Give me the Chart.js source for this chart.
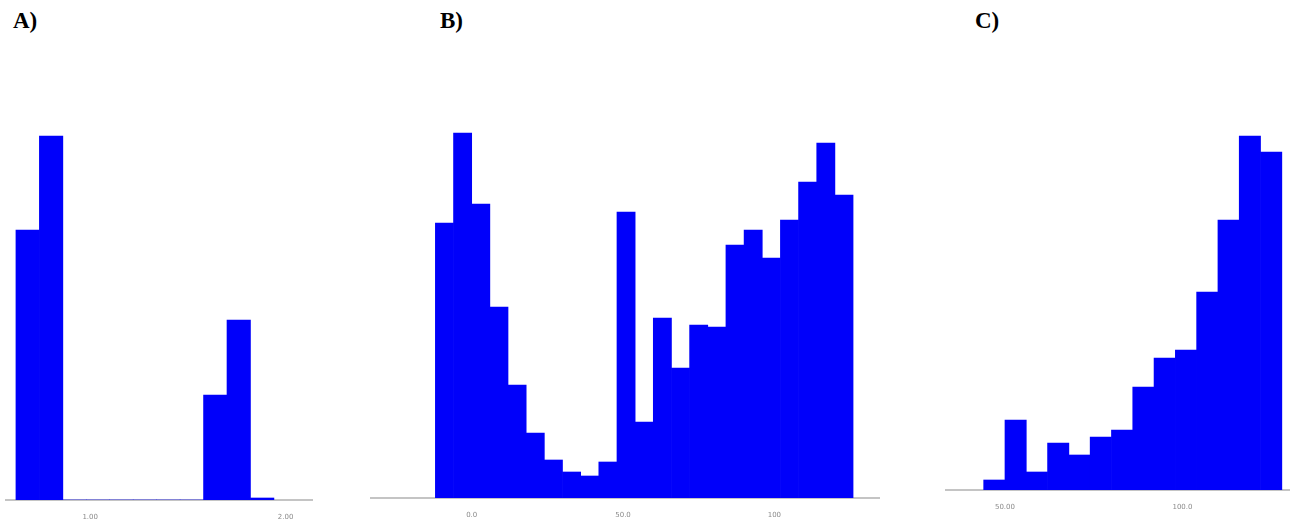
<!DOCTYPE html>
<html>
<head>
<meta charset="utf-8">
<script src="https://cdn.jsdelivr.net/npm/chart.js@4.4.1/dist/chart.umd.min.js"></script>
<style>
  body { margin: 0; background: #fff; width: 1291px; height: 529px; position: relative; overflow: hidden; }
  .title { position: absolute; top: 8px; font-family: 'Liberation Serif', 'Times New Roman', serif; font-weight: bold; font-size: 23px; color: #000; }
  .panel { position: absolute; }
</style>
</head>
<body>
<div class="title" style="left:13px">A)</div>
<div class="title" style="left:440px">B)</div>
<div class="title" style="left:975px">C)</div>

<div class="panel" style="left:5px; top:100px;"><canvas id="histA" width="308" height="430"></canvas></div>
<div class="panel" style="left:370px; top:98px;"><canvas id="histB" width="510" height="430"></canvas></div>
<div class="panel" style="left:945px; top:90px;"><canvas id="histC" width="345" height="430"></canvas></div>

<script>
// Panel A - bin centres and counts
const binsA = [0.68, 0.80, 0.92, 1.04, 1.16, 1.28, 1.40, 1.52, 1.64, 1.76, 1.88];
const countsA = [270, 364, 0, 0, 0, 0, 0, 0, 105, 180, 2];
const ticksA = [1, 2];
const tickLabelsA = ['1.00', '2.00'];

// Panel B
const binsB = [-9, -3, 3, 9, 15, 21, 27, 33, 39, 45, 51, 57, 63, 69, 75, 81, 87, 93, 99, 105, 111, 117, 123];
const countsB = [275, 365, 294, 191, 113, 65, 38, 26, 22, 36, 286, 76, 180, 130, 173, 171, 253, 268, 240, 278, 316, 355, 303];
const ticksB = [0, 50, 100];
const tickLabelsB = ['0.0', '50.0', '100'];

// Panel C
const binsC = [47, 53, 59, 65, 71, 77, 83, 89, 95, 101, 107, 113, 119, 125];
const countsC = [10, 70, 18, 47, 35, 53, 60, 103, 132, 140, 198, 270, 354, 338];
const ticksC = [50, 100];
const tickLabelsC = ['50.00', '100.0'];

function makeHist(id, bins, counts, ticks, tickLabels, xMin, xMax) {
    const ctx = document.getElementById(id).getContext('2d');
    return new Chart(ctx, {
        type: 'bar',
        data: {
            datasets: [{
                data: bins.map((x, i) => ({ x: x, y: counts[i] })),
                backgroundColor: '#0000fa',
                borderWidth: 0,
                barPercentage: 1.0,
                categoryPercentage: 1.0
            }]
        },
        options: {
            responsive: false,
            animation: false,
            layout: { padding: 0 },
            plugins: {
                legend: { display: false },
                tooltip: { enabled: false }
            },
            scales: {
                x: {
                    type: 'linear',
                    min: xMin,
                    max: xMax,
                    offset: false,
                    grid: { display: false, offset: false },
                    border: { display: true, color: '#c4c4c4', width: 2 },
                    afterBuildTicks: s => { s.ticks = ticks.map(v => ({ value: v })); },
                    afterFit: s => { s.height = 30; },
                    ticks: {
                        autoSkip: false,
                        maxRotation: 0,
                        padding: 5,
                        color: '#8a8a8a',
                        font: { size: 7, family: 'DejaVu Sans' },
                        callback: (v, i) => tickLabels[i]
                    }
                },
                y: {
                    display: false,
                    min: 0,
                    max: 400
                }
            }
        }
    });
}

makeHist('histA', binsA, countsA, ticksA, tickLabelsA, 0.564, 2.14);
makeHist('histB', binsB, countsB, ticksB, tickLabelsB, -33.6, 134.9);
makeHist('histC', binsC, countsC, ticksC, tickLabelsC, 33.1, 130.3);
</script>
</body>
</html>
